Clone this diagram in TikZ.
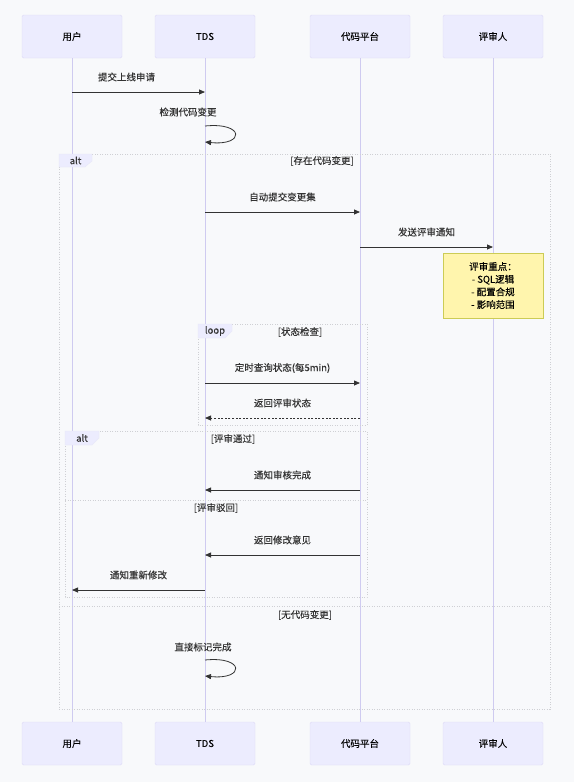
\documentclass[tikz,border=0pt]{standalone}
\usepackage{fontspec}
\setmainfont{Noto Sans CJK SC}[FakeBold=0.12]
\usetikzlibrary{positioning,arrows.meta}
\definecolor{bgGray}{HTML}{F8F9FB}
\definecolor{actorFill}{HTML}{ECECFE}
\definecolor{actorLine}{HTML}{DDDAF6}
\definecolor{lifeLine}{HTML}{CFCBF0}
\definecolor{msgLine}{HTML}{333333}
\definecolor{frameLine}{HTML}{CFD0D4}
\definecolor{noteFill}{HTML}{FFF5AD}
\definecolor{noteLine}{HTML}{CCCC55}
\tikzset{
  actor/.style={rectangle, rounded corners=1.5pt, fill=actorFill, draw=actorLine,
    minimum width=100pt, minimum height=43pt, inner sep=0pt},
  lifeline/.style={draw=lifeLine, line width=0.7pt},
  msg/.style={draw=msgLine, line width=0.8pt, -{Triangle[length=6pt,width=5pt]}},
  reply/.style={msg, dash pattern=on 2pt off 1.6pt},
  msgLabel/.style={text=msgLine, inner sep=0pt},
  frameBox/.style={draw=frameLine, line width=0.6pt, dash pattern=on 1pt off 1.5pt},
  frameTab/.style={fill=actorFill, draw=actorFill!80!frameLine, line width=0.3pt},
  cond/.style={text=msgLine, inner sep=0pt},
  noteBox/.style={rectangle, fill=noteFill, draw=noteLine, line width=0.6pt,
    minimum width=100pt, minimum height=65pt, align=center, inner sep=0pt}
}

\begin{document}
\begin{tikzpicture}[x=1pt, y=-1pt, font=\fontsize{9.5}{12.7}\selectfont]
  \useasboundingbox[fill=bgGray] (0,0) rectangle (574,782);
  % actors
  \node [actor] (user) at (72,36.5) {用户};
  \node [actor] (tds) at (205,36.5) {TDS};
  \node [actor] (code) at (360,36.5) {代码平台};
  \node [actor] (rev) at (493,36.5) {评审人};
  \node [actor] (userB) at (72,743.5) {用户};
  \node [actor] (tdsB) at (205,743.5) {TDS};
  \node [actor] (codeB) at (360,743.5) {代码平台};
  \node [actor] (revB) at (493,743.5) {评审人};
  \foreach \a in {user,tds,code,rev}
    \draw [lifeline] (\a.south) -- (\a B.north);

  % frames
  \draw [frameBox] (59,154) rectangle (550,709);
  \draw [frameBox] (59,606) -- (550,606);
  \draw [frameTab] (59,154) -- (92,154) -- (92,161) -- (85,167) -- (59,167) -- cycle;
  \node [cond] at (75.5,160.5) {alt};
  \node [cond] at (322,161) {[存在代码变更]};
  \node [cond] at (305,615) {[无代码变更]};

  \draw [frameBox] (198,324) rectangle (367,425);
  \draw [frameTab] (198,324) -- (232,324) -- (232,331) -- (225,338) -- (198,338) -- cycle;
  \node [cond] at (215,331) {loop};
  \node [cond] at (300,332) {[状态检查]};

  \draw [frameBox] (65,431) rectangle (367,597);
  \draw [frameBox] (65,500) -- (367,500);
  \draw [frameTab] (65,431) -- (99,431) -- (99,438) -- (92,445) -- (65,445) -- cycle;
  \node [cond] at (82,438) {alt};
  \node [cond] at (233,439) {[评审通过]};
  \node [cond] at (216,508) {[评审驳回]};

  % messages
  \draw [msg] (user |- 0,92) -- node [msgLabel, yshift=15pt, xshift=-12pt] {提交上线申请} (tds |- 0,92);
  \node [msgLabel] (selfA) at (188,112) {检测代码变更};
  \draw [msg] (tds |- 0,126) .. controls +(40,-4) and +(40,4) .. (tds |- 0,142);
  \draw [msg] (tds |- 0,212) -- node [msgLabel, yshift=15pt] {自动提交变更集} (code |- 0,212);
  \draw [msg] (code |- 0,247) -- node [msgLabel, yshift=15pt] {发送评审通知} (rev |- 0,247);
  \node [noteBox] (focus) at (493,285.5) {评审重点：\\- SQL逻辑\\- 配置合规\\- 影响范围};
  \draw [msg] (tds |- 0,383) -- node [msgLabel, yshift=15pt] {定时查询状态(每5min)} (code |- 0,383);
  \draw [reply] (code |- 0,418) -- node [msgLabel, yshift=15pt] {返回评审状态} (tds |- 0,418);
  \draw [msg] (code |- 0,490) -- node [msgLabel, yshift=15pt] {通知审核完成} (tds |- 0,490);
  \draw [msg] (code |- 0,555) -- node [msgLabel, yshift=15pt] {返回修改意见} (tds |- 0,555);
  \draw [msg] (tds |- 0,590) -- node [msgLabel, yshift=15pt] {通知重新修改} (user |- 0,590);
  \node [msgLabel] (selfB) at (203,647) {直接标记完成};
  \draw [msg] (tds |- 0,660) .. controls +(40,-4) and +(40,4) .. (tds |- 0,676);
\end{tikzpicture}
\end{document}
